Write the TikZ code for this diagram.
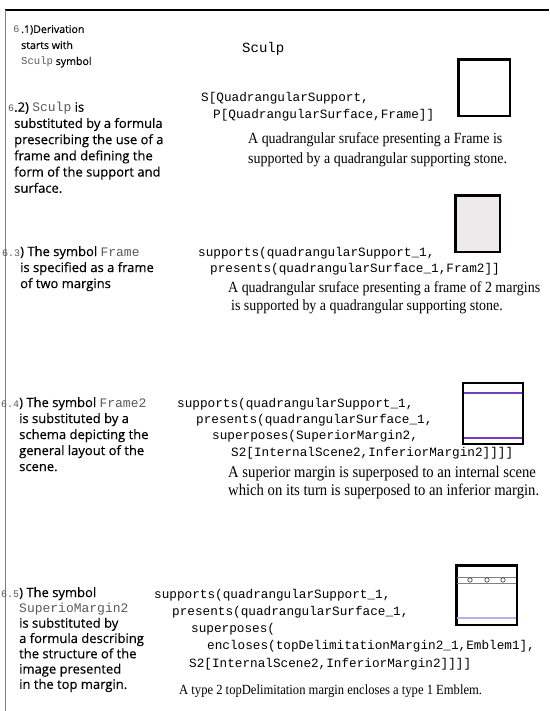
\documentclass[tikz,border=0pt]{standalone}
\usepackage{fontspec}
\setmainfont{Liberation Serif}
\newfontfamily\notefam[FakeBold=0.35]{Open Sans}
\newfontfamily\codefam{Liberation Mono}
\newfontfamily\glossfam[FakeStretch=0.9]{Liberation Serif}
\usetikzlibrary{positioning}

\definecolor{tokgray}{gray}{0.35}
\definecolor{marginpurple}{RGB}{120,60,190}
\definecolor{lightpurple}{RGB}{185,175,240}
\definecolor{stonefill}{RGB}{238,234,236}
\newcommand\tok[1]{{\codefam\color{tokgray}#1}}
\newcommand\secno[1]{{\codefam\fontsize{10}{10}\selectfont\color{tokgray}#1}}

\tikzset{
  note/.style={anchor=north west, inner sep=0pt, align=left, font=\notefam\fontsize{13}{16}\selectfont},
  code/.style={anchor=base west, inner sep=0pt, font=\codefam\fontsize{12.7}{15}\selectfont},
  gloss/.style={anchor=base west, inner sep=0pt, font=\glossfam\fontsize{15.5}{20}\selectfont},
  panel/.style={draw, line width=1.2pt},
}

\begin{document}
\begin{tikzpicture}[x=1pt,y=-1pt]
 \useasboundingbox (0,0) rectangle (549,711);

 %border
 \draw[line width=1.5pt] (5,10) -- (549,10);
 \draw[gray, line width=1pt] (5,10) -- (5,711);

 %step 6.1
 \node[note, font=\notefam\fontsize{10.6}{16}\selectfont] (n1) at (21,25)
   {\llap{\secno{6}\,}.1)Derivation\\starts with\\\tok{Sculp} symbol};
 \node[code, font=\codefam\fontsize{14}{14}\selectfont] (c1) at (242,53) {Sculp};
 \draw[panel] (458,59) rectangle (510,116);
 \draw[line width=2.5pt] (459,116) -- (459,60) -- (509,60);

 %step 6.2
 \node[note, font=\notefam\fontsize{13}{16.2}\selectfont] (n2) at (14,102)
   {\llap{\secno{6}}.2) \tok{Sculp} is\\substituted by a formula\\presecribing the use of a\\frame and defining the\\form of the support and\\surface.};
 \foreach \i/\x/\y/\txt in {1/201/102/{S[QuadrangularSupport,},
                            2/213/119/{P[QuadrangularSurface,Frame]]}} {
   \node[code] (c2-\i) at (\x,\y) {\txt};
 }
 \foreach \i/\x/\y/\txt in {1/248/144/{A quadrangular sruface presenting a Frame is},
                            2/248/164/{supported by a quadrangular supporting stone.}} {
   \node[gloss] (g2-\i) at (\x,\y) {\txt};
 }

 %step 6.3
 \draw[panel, fill=stonefill] (455,195) rectangle (500,252);
 \draw[line width=2.2pt] (456,252) -- (456,196) -- (499,196);
 \node[note] (n3) at (20,246)
   {\llap{\secno{6.3}}) The symbol \tok{Frame}\\is specified as a frame\\of two margins};
 \foreach \i/\x/\y/\txt in {1/198/256/{supports(quadrangularSupport\_1,},
                            2/210/272/{presents(quadrangularSurface\_1,Fram2]]}} {
   \node[code] (c3-\i) at (\x,\y) {\txt};
 }
 \foreach \i/\x/\y/\txt in {1/228/292/{A quadrangular sruface presenting a frame of 2 margins},
                            2/231/310/{is supported by a quadrangular supporting stone.}} {
   \node[gloss] (g3-\i) at (\x,\y) {\txt};
 }

 %step 6.4
 \draw[panel] (463,383) rectangle (523,444);
 \draw[marginpurple, line width=1.5pt] (464,393) -- (522,393);
 \draw[marginpurple, line width=1.5pt] (464,438) -- (522,438);
 \node[note] (n4) at (19,397)
   {\llap{\secno{6.4}}) The symbol \tok{Frame2}\\is substituted by a\\schema depicting the\\general layout of the\\scene.};
 \foreach \i/\x/\y/\txt in {1/177/407/{supports(quadrangularSupport\_1,},
                            2/196/423/{presents(quadrangularSurface\_1,},
                            3/212/439/{superposes(SuperiorMargin2,},
                            4/231/456/{S2[InternalScene2,InferiorMargin2]]]]}} {
   \node[code] (c4-\i) at (\x,\y) {\txt};
 }
 \foreach \i/\x/\y/\txt in {1/228/477/{A superior margin is superposed to an internal scene},
                            2/228/495/{which on its turn is superposed to an inferior margin.}} {
   \node[gloss, font=\glossfam\fontsize{16.3}{20}\selectfont] (g4-\i) at (\x,\y) {\txt};
 }

 %step 6.5
 \draw[panel] (456,565) rectangle (517,625);
 \draw[line width=2.5pt] (457,624) -- (457,566) -- (516,566);
 \draw[gray, line width=0.8pt] (457,577) -- (516,577);
 \draw[gray, line width=0.8pt] (457,583) -- (516,583);
 \foreach \cx in {470,487,503} {
   \draw[gray!60!black, fill=white, line width=0.7pt] (\cx,580) circle[radius=2.2pt];
 }
 \draw[lightpurple, line width=1.2pt] (457,618) -- (516,618);
 \node[note, font=\notefam\fontsize{13}{15.3}\selectfont] (n5) at (19,587)
   {\llap{\secno{6.5}}) The symbol\\\tok{SuperioMargin2}\\is substituted by\\a formula describing\\the structure of the\\image presented\\in the top margin.};
 \foreach \i/\x/\y/\txt in {1/154/598/{supports(quadrangularSupport\_1,},
                            2/172/615/{presents(quadrangularSurface\_1,},
                            3/191/632/{superposes(},
                            4/207/649/{encloses(topDelimitationMargin2\_1,Emblem1],},
                            5/189/667/{S2[InternalScene2,InferiorMargin2]]]]}} {
   \node[code] (c5-\i) at (\x,\y) {\txt};
 }
 \node[gloss, font=\glossfam\fontsize{14}{18}\selectfont] (g5) at (179,694)
   {A type 2 topDelimitation margin encloses a type 1 Emblem.};
\end{tikzpicture}
\end{document}
